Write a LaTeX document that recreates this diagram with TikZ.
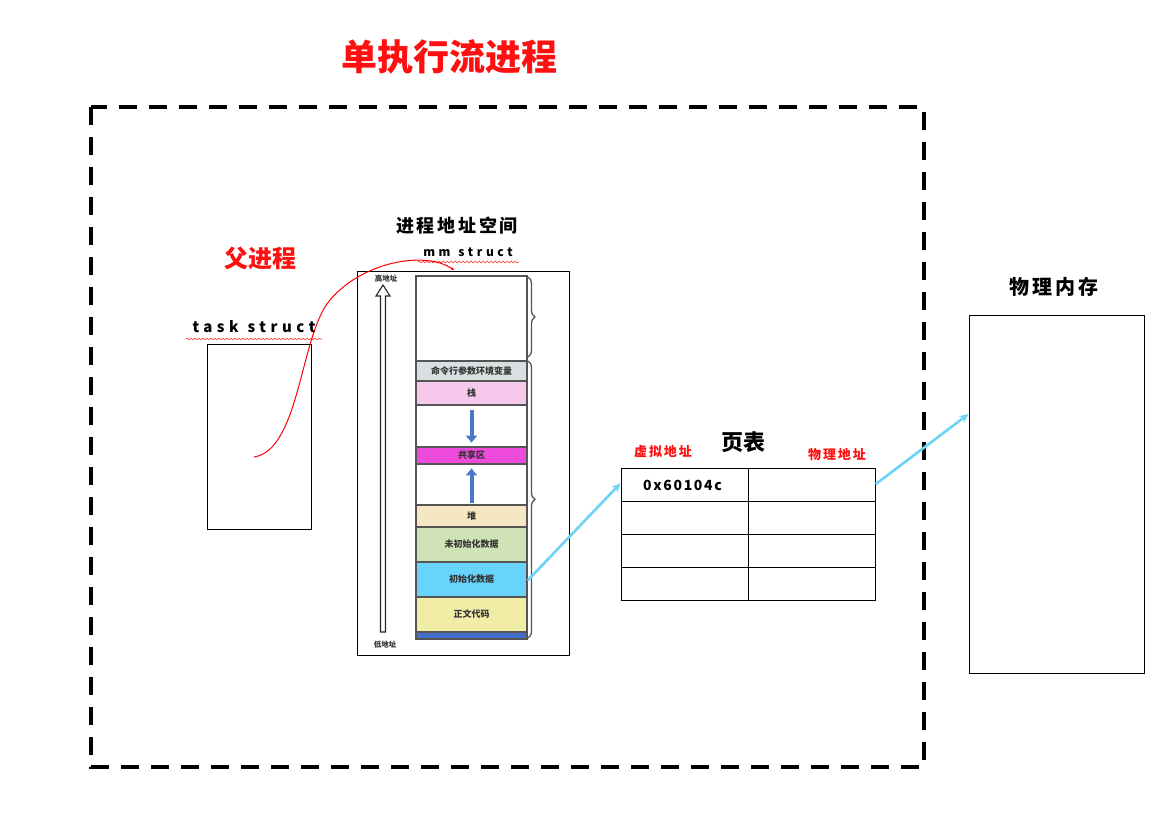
\documentclass[tikz,border=0pt]{standalone}
\usepackage{fontspec}
\usetikzlibrary{decorations.pathmorphing,decorations.pathreplacing,arrows.meta}
\setmainfont{Noto Sans CJK SC}
\newfontfamily\cjk{Noto Sans CJK SC}
\newfontfamily\cjkls{Noto Sans CJK SC}[LetterSpace=15]
\newfontfamily\latls{Noto Sans CJK SC}[LetterSpace=30]
\newfontfamily\latmd{Noto Sans CJK SC}[LetterSpace=12]
\definecolor{titred}{HTML}{FF1010}
\definecolor{cyanarr}{HTML}{6CD3F8}
\definecolor{segcmd}{HTML}{DADFE2}
\definecolor{segstk}{HTML}{F5C8EC}
\definecolor{segshr}{HTML}{EE4BDC}
\definecolor{segheap}{HTML}{F6E7C3}
\definecolor{segbss}{HTML}{CFE3B6}
\definecolor{segdata}{HTML}{66D4FB}
\definecolor{segtext}{HTML}{F1EDA6}
\definecolor{segbar}{HTML}{3F6FCB}
\definecolor{bluearr}{HTML}{4A78C8}
\definecolor{braceg}{HTML}{555555}
\tikzset{
  seg/.style={draw=braceg, line width=1.3pt},
  segtxt/.style={font=\cjk\bfseries\fontsize{9}{10}\selectfont, text=black!80},
  wavy/.style={draw=red!80, line width=0.6pt, decorate, decoration={snake, amplitude=0.9pt, segment length=4pt}},
  plainbox/.style={draw=black, line width=1pt},
  cyanline/.style={draw=cyanarr, line width=2.6pt, -{Stealth[length=9pt,width=8pt]}},
  bluedn/.style={draw=bluearr, line width=4pt, -{Triangle[length=7pt,width=11pt]}},
  bracest/.style={draw=braceg, line width=1.3pt, decorate, decoration={brace, amplitude=7pt}}
}
\begin{document}
\begin{tikzpicture}[x=1pt,y=-1pt]
\path[fill=white] (0,0) rectangle (1170,822);
\useasboundingbox (0,0) rectangle (1170,822);

% title
\node[text=titred, font=\cjk\bfseries\fontsize{36}{38}\selectfont] (title) at (449,57) {单执行流进程};

% dashed frame
\draw[line width=4pt, dash pattern=on 18pt off 12pt] (91,107) rectangle (924,767);

% parent process
\node[text=titred, font=\cjk\bfseries\fontsize{24}{26}\selectfont] (parent) at (260,258) {父进程};
\node[font=\latls\bfseries\fontsize{15}{16}\selectfont] (tasklbl) at (254,327) {\mbox{task}\rule{9pt}{0pt}\mbox{struct}};
\draw[wavy] (186,339) -- (322,339);
\node[plainbox, minimum width=104pt, minimum height=185pt, inner sep=0pt] (task) at (259,436.5) {};

% address space title
\node[font=\cjkls\bfseries\fontsize{18}{20}\selectfont] (astitle) at (457,226) {进程地址空间};
\node[font=\latls\bfseries\fontsize{12}{13}\selectfont] (mmlbl) at (468,252) {\mbox{mm}\rule{8pt}{0pt}\mbox{struct}};
\draw[wavy] (418,262) -- (519,262);

% outer box of address space
\node[plainbox, minimum width=212pt, minimum height=384pt, inner sep=0pt] (asbox) at (463,463) {};

% segments
\node[seg, fill=white, minimum width=111pt, minimum height=85pt, inner sep=0pt] (sfree) at (471.5,318.5) {};
\node[seg, fill=segcmd, minimum width=111pt, minimum height=20pt, inner sep=0pt, segtxt] (scmd) at (471.5,371) {命令行参数环境变量};
\node[seg, fill=segstk, minimum width=111pt, minimum height=24pt, inner sep=0pt, segtxt] (sstk) at (471.5,393) {栈};
\node[seg, fill=white, minimum width=111pt, minimum height=42pt, inner sep=0pt] (sgap1) at (471.5,426) {};
\node[seg, fill=segshr, minimum width=111pt, minimum height=17pt, inner sep=0pt, segtxt] (sshr) at (471.5,455.5) {共享区};
\node[seg, fill=white, minimum width=111pt, minimum height=41pt, inner sep=0pt] (sgap2) at (471.5,484.5) {};
\node[seg, fill=segheap, minimum width=111pt, minimum height=22pt, inner sep=0pt, segtxt] (sheap) at (471.5,516) {堆};
\node[seg, fill=segbss, minimum width=111pt, minimum height=35pt, inner sep=0pt, segtxt] (sbss) at (471.5,544.5) {未初始化数据};
\node[seg, fill=segdata, minimum width=111pt, minimum height=35pt, inner sep=0pt, segtxt] (sdata) at (471.5,579.5) {初始化数据};
\node[seg, fill=segtext, minimum width=111pt, minimum height=35pt, inner sep=0pt, segtxt] (stext) at (471.5,614.5) {正文代码};
\node[seg, fill=segbar, minimum width=111pt, minimum height=7pt, inner sep=0pt] (sbar) at (471.5,635.5) {};

% blue arrows
\draw[bluedn] ([yshift=-6pt]sgap1.north) -- ([yshift=5pt]sgap1.south);
\draw[bluedn] ([yshift=3pt]sgap2.south) -- ([yshift=-5pt]sgap2.north);

% braces
\draw[bracest] (528,277) -- (528,357);
\draw[bracest] (528,361) -- (528,638);

% hollow address arrow
\draw[black!85, line width=1.1pt, fill=white] (380.5,632) -- (380.5,296) -- (376,296) -- (383,285) -- (390,296) -- (385.5,296) -- (385.5,632) -- cycle;
\node[font=\cjk\bfseries\fontsize{7.5}{8}\selectfont, text=black!80] (high) at (386,279) {高地址};
\node[font=\cjk\bfseries\fontsize{7.5}{8}\selectfont, text=black!80] (low) at (385,645) {低地址};

% red curve from task struct to mm struct
\coordinate (cstart) at (254,457);
\coordinate (cend) at (454,270);
\draw[red, line width=1pt, -{Stealth[length=3pt,width=3pt]}] (cstart) .. controls (300,450) and (300,335) .. (330,300) .. controls (362,262) and (425,250) .. (cend);

% page table
\node[font=\cjk\bfseries\fontsize{22}{24}\selectfont] (pttitle) at (743,442) {页表};
\node[text=titred, font=\cjkls\bfseries\fontsize{13}{14}\selectfont] (vlbl) at (663,452) {虚拟地址};
\node[text=titred, font=\cjkls\bfseries\fontsize{13}{14}\selectfont] (plbl) at (837,455) {物理地址};
\foreach \r [count=\i] in {469,502,535,568} {
  \pgfmathsetmacro{\yc}{\r+16.25}
  \node[plainbox, minimum width=127pt, minimum height=32.75pt, inner sep=0pt] (v\i) at (684.5,\yc) {};
  \node[plainbox, minimum width=127pt, minimum height=32.75pt, inner sep=0pt] (p\i) at (811.5,\yc) {};
}
\node[font=\latmd\bfseries\fontsize{14}{15}\selectfont] (addr) at ([xshift=-2pt]v1.center) {0x60104c};

% physical memory
\node[font=\cjkls\bfseries\fontsize{20}{22}\selectfont] (pmtitle) at (1054,287) {物理内存};
\node[plainbox, minimum width=175pt, minimum height=358pt, inner sep=0pt] (pmem) at (1056.5,494) {};

% cyan arrows
\draw[cyanline] ([yshift=-1pt]sdata.east) -- ([yshift=2pt]v1.west);
\draw[cyanline] ([yshift=1pt]p1.east) -- ([yshift=80pt]pmem.west);
\end{tikzpicture}
\end{document}
